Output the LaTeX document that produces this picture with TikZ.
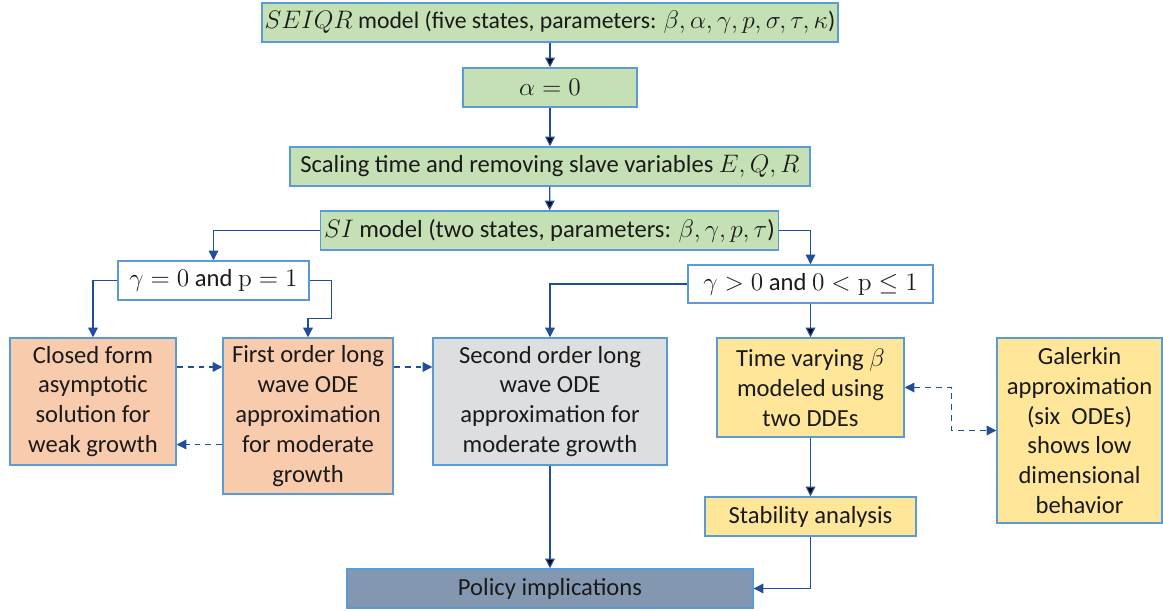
\documentclass[tikz,border=0pt]{standalone}
\usepackage{amsmath}
\usepackage[no-math]{fontspec}
\setmainfont{Carlito}
\usepackage{tikz}
\usetikzlibrary{arrows.meta}
\definecolor{boxline}{HTML}{5B9BD5}
\definecolor{arrline}{HTML}{1F4E9C}
\definecolor{greenfill}{HTML}{C5E0B4}
\definecolor{orangefill}{HTML}{F8CBAD}
\definecolor{greyfill}{HTML}{DDDEE0}
\definecolor{yellowfill}{HTML}{FFE699}
\definecolor{policyfill}{HTML}{8497B0}
\definecolor{txt}{HTML}{1A1A1A}
\begin{document}
\begin{tikzpicture}[x=0.02cm, y=-0.02cm,
    main/.style = {draw=boxline, line width=0.85pt, text=txt, inner sep=2pt, align=center,
                   font=\fontsize{14}{17}\selectfont, minimum height=0.78cm},
    green/.style = {main, fill=greenfill},
    cond/.style = {main, fill=white},
    orange/.style = {main, fill=orangefill},
    grey/.style = {main, fill=greyfill},
    yellow/.style = {main, fill=yellowfill},
    arr/.style = {draw=arrline, line width=0.7pt, -{Triangle[length=5.5pt,width=5.5pt]}},
    darr/.style = {arr, dash pattern=on 3.4pt off 2.8pt}]
    \useasboundingbox (0,0) rectangle (1163,611);

    \node[green, inner xsep=0pt, font=\fontsize{13.5}{17}\selectfont] (SEIQR) at (550,22.5) [minimum width=11.52cm] {$SEIQR$ model (five states, parameters: $\beta,\alpha,\gamma,p,\sigma,\tau,\kappa$)};
    \node[green] (alpha) at (550,87.5) [minimum width=3.48cm] {$\alpha=0$};
    \node[green] (scaling) at (550,166.5) [minimum width=10.4cm] {Scaling time and removing slave variables $E,Q,R$};
    \node[green] (SI) at (549.5,230.5) [minimum width=9.1cm] {$SI$ model (two states, parameters: $\beta,\gamma,p,\tau$)};

    \path[arr] (SEIQR) edge (alpha);
    \path[arr] (alpha) edge (scaling);
    \path[arr] (scaling) edge (SI);

    \node[cond] (gzero) at (213.5,280.5) [minimum width=3.82cm] {$\gamma=0$ and $\mathrm{p}=1$};
    \node[cond] (gpos) at (810.5,284) [minimum width=4.9cm, minimum height=0.76cm] {$\gamma>0$ and $0<\mathrm{p}\le1$};

    \draw[arr] (SI.west) -| (gzero.north);
    \draw[arr] (SI.east) -| (gpos.north);

    \node[orange] (closed) at (93,401.5) [minimum width=3.32cm, minimum height=2.54cm] {Closed form\\asymptotic\\solution for\\weak growth};
    \node[orange] (first) at (308,416) [minimum width=3.4cm, minimum height=3.12cm] {First order long\\wave ODE\\approximation\\for moderate\\growth};
    \node[grey] (second) at (550,401.5) [minimum width=4.68cm, minimum height=2.54cm] {Second order long\\wave ODE\\approximation for\\moderate growth};
    \node[yellow] (timevar) at (810.5,387.5) [minimum width=3.74cm, minimum height=1.98cm] {Time varying $\beta$\\modeled using\\two DDEs};
    \node[yellow] (galerkin) at (1079.5,430.5) [minimum width=3.3cm, minimum height=3.7cm] {Galerkin\\approximation\\(six\ \ ODEs)\\shows low\\dimensional\\behavior};
    \node[yellow] (stability) at (810.5,516.5) [minimum width=4.22cm] {Stability analysis};
    \node[main, fill=policyfill] (policy) at (550,588.5) [minimum width=8.12cm] {Policy implications};

    \draw[arr] (gzero.west) -| (closed.north);
    \draw[arr] (gzero.east) -- ++(22,0) -- ++(0,38) -| (first.north);
    \draw[arr] (gpos.west) -| (second.north);
    \path[arr] (gpos) edge (timevar);

    \coordinate (cf) at ([yshift=0.69cm]closed.east);
    \coordinate (fc) at ([yshift=-0.57cm]first.west);
    \coordinate (fs) at ([yshift=0.98cm]first.east);
    \draw[darr] (cf) -- (cf -| first.west);
    \draw[darr] (fc) -- (fc -| closed.east);
    \draw[darr] (fs) -- (fs -| second.west);
    \draw[darr, {Triangle[length=5.5pt,width=5.5pt]}-{Triangle[length=5.5pt,width=5.5pt]}] (timevar.east) -- ++(47,0) |- (galerkin.west);

    \path[arr] (timevar) edge (stability);
    \path[arr] (second) edge (policy);
    \draw[arr] (stability.south) |- (policy.east);
\end{tikzpicture}
\end{document}
